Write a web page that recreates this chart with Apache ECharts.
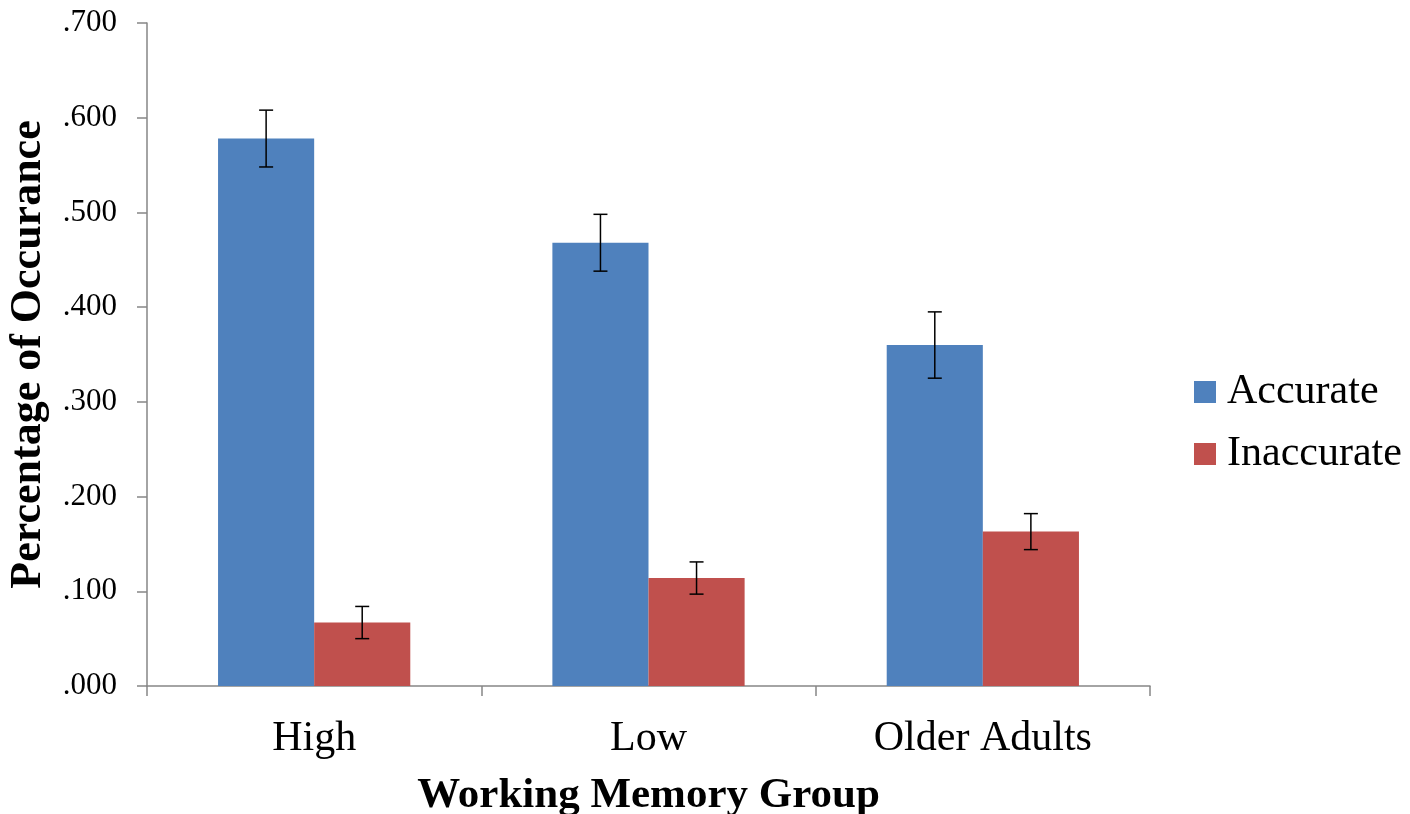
<!DOCTYPE html>
<html>
<head>
<meta charset="utf-8">
<script src="https://cdn.jsdelivr.net/npm/echarts@6/dist/echarts.min.js"></script>
<style>
  html, body { margin: 0; padding: 0; background: #fff; }
  #main { width: 1410px; height: 814px; }
</style>
</head>
<body>
<div id="main"></div>
<script>
    var groups = ['High', 'Low', 'Older Adults'];
    var accurate = [0.578, 0.468, 0.360];
    var accurateErr = [0.030, 0.030, 0.035];
    var inaccurate = [0.067, 0.114, 0.163];
    var inaccurateErr = [0.017, 0.017, 0.019];

    var serif = '"Liberation Serif", "Times New Roman", serif';
    var axisGrey = '#868686';

    // error bar renderer, side = -1 left bar, +1 right bar
    function errorBars(side) {
        return function (params, api) {
            var cat = api.value(0);
            var lo = api.coord([cat, api.value(1)]);
            var hi = api.coord([cat, api.value(2)]);
            var band = api.size([1, 0])[0];
            var x = lo[0] + side * band * 0.1437;
            var cap = 7;
            var style = { stroke: '#000', lineWidth: 1.5 };
            return {
                type: 'group',
                children: [
                    { type: 'line', shape: { x1: x, y1: hi[1], x2: x, y2: lo[1] }, style: style },
                    { type: 'line', shape: { x1: x - cap, y1: hi[1], x2: x + cap, y2: hi[1] }, style: style },
                    { type: 'line', shape: { x1: x - cap, y1: lo[1], x2: x + cap, y2: lo[1] }, style: style }
                ]
            };
        };
    }

    function errData(vals, errs) {
        return vals.map(function (v, i) { return [i, v - errs[i], v + errs[i]]; });
    }

    var myChart = echarts.init(document.getElementById('main'));

    myChart.setOption({
        animation: false,
        textStyle: { fontFamily: serif, color: '#000' },
        grid: { left: 147, right: 260, top: 23, bottom: 128, containLabel: false, outerBoundsMode: 'none' },
        legend: {
            orient: 'vertical',
            left: 1194,
            top: 371,
            padding: 0,
            itemWidth: 22,
            itemHeight: 22,
            itemGap: 20,
            icon: 'rect',
            textStyle: { fontFamily: serif, fontSize: 42, color: '#000', padding: [0, 0, 0, 6] },
            data: ['Accurate', 'Inaccurate']
        },
        xAxis: {
            type: 'category',
            data: groups,
            name: 'Working Memory Group',
            nameLocation: 'middle',
            nameGap: 88,
            nameTextStyle: { fontFamily: serif, fontSize: 43, fontWeight: 'bold', color: '#000' },
            axisLine: { lineStyle: { color: axisGrey, width: 1.5 } },
            axisTick: { show: true, length: 10, lineStyle: { color: axisGrey, width: 1.5 } },
            axisLabel: { fontFamily: serif, fontSize: 42, color: '#000', margin: 32 }
        },
        yAxis: {
            type: 'value',
            min: 0,
            max: 0.7,
            interval: 0.1,
            name: 'Percentage of Occurance',
            nameLocation: 'middle',
            nameGap: 96,
            nameTextStyle: { fontFamily: serif, fontSize: 44, fontWeight: 'bold', color: '#000' },
            splitLine: { show: false },
            axisLine: { show: true, lineStyle: { color: axisGrey, width: 1.5 } },
            axisTick: { show: true, length: 10, lineStyle: { color: axisGrey, width: 1.5 } },
            axisLabel: {
                fontFamily: serif, fontSize: 31, color: '#000', margin: 30,
                formatter: function (v) { return v.toFixed(3).replace(/^0/, ''); }
            }
        },
        series: [
            {
                name: 'Accurate',
                type: 'bar',
                data: accurate,
                barGap: '0%',
                barCategoryGap: '42.5%',
                itemStyle: { color: '#4F81BD' }
            },
            {
                name: 'Inaccurate',
                type: 'bar',
                data: inaccurate,
                barGap: '0%',
                barCategoryGap: '42.5%',
                itemStyle: { color: '#C0504D' }
            },
            {
                type: 'custom',
                renderItem: errorBars(-1),
                data: errData(accurate, accurateErr),
                z: 10,
                silent: true
            },
            {
                type: 'custom',
                renderItem: errorBars(1),
                data: errData(inaccurate, inaccurateErr),
                z: 10,
                silent: true
            }
        ]
    });
</script>
</body>
</html>
